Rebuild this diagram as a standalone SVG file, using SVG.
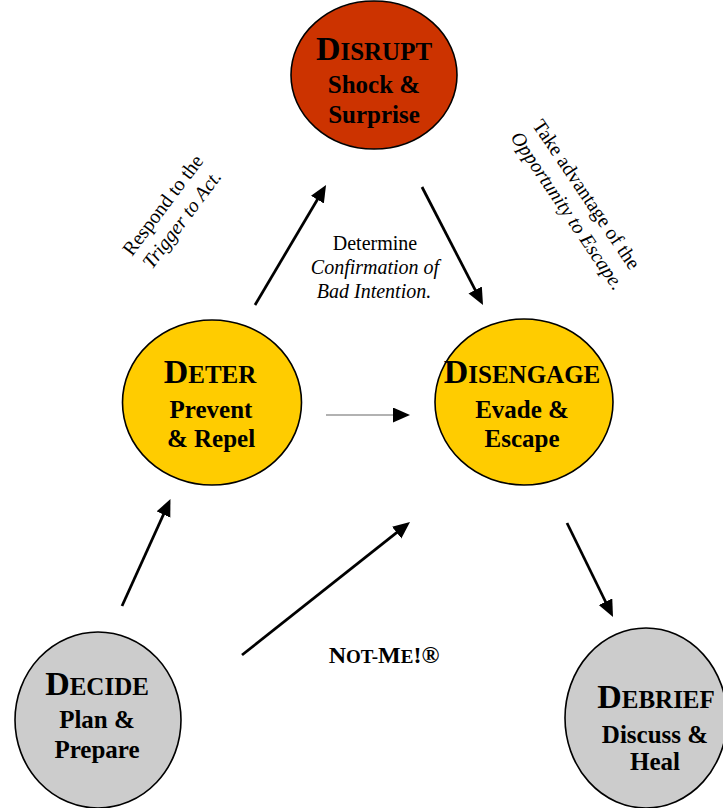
<svg xmlns="http://www.w3.org/2000/svg" width="723" height="808" viewBox="0 0 723 808" font-family="'Liberation Serif', 'Times New Roman', Times, serif">
<defs>
<marker id="ah" markerUnits="userSpaceOnUse" markerWidth="18" markerHeight="16" refX="12" refY="7.5" orient="auto">
<path d="M0,0 L17,7.5 L0,15 Z" fill="#000"/>
</marker>
</defs>
<rect width="723" height="808" fill="#fff"/>
<g id="connectors" stroke="#000" stroke-width="2.75" fill="none" marker-end="url(#ah)">
<line x1="255" y1="305" x2="323.5" y2="189.3"/>
<line x1="422" y1="187" x2="480.7" y2="300.6"/>
<line stroke="#999" stroke-width="1.5" x1="326" y1="415" x2="405" y2="415"/>
<line x1="122" y1="606" x2="168.4" y2="503.6"/>
<line x1="242" y1="655" x2="406.1" y2="525.1"/>
<line x1="567" y1="523" x2="610.8" y2="612.5"/>
</g>
<g id="disrupt" font-weight="bold" font-size="25" text-anchor="middle">
<ellipse fill="#CC3300" stroke="#000" stroke-width="1.6" cx="374" cy="75" rx="83" ry="74"/>
<text x="374" y="60"><tspan font-size="34">D</tspan>ISRUPT</text>
<text x="374" y="93">Shock &amp;</text>
<text x="374" y="123">Surprise</text>
</g>
<g id="deter" font-weight="bold" font-size="25" text-anchor="middle">
<ellipse fill="#FFCC00" stroke="#000" stroke-width="1.6" cx="212" cy="402.5" rx="89.5" ry="82.5"/>
<text x="210" y="383"><tspan font-size="34">D</tspan>ETER</text>
<text x="211" y="418">Prevent</text>
<text x="211" y="447">&amp; Repel</text>
</g>
<g id="disengage" font-weight="bold" font-size="25" text-anchor="middle">
<ellipse fill="#FFCC00" stroke="#000" stroke-width="1.6" cx="524" cy="402" rx="89" ry="83"/>
<text x="522" y="383"><tspan font-size="34">D</tspan>ISENGAGE</text>
<text x="522" y="418">Evade &amp;</text>
<text x="522" y="447">Escape</text>
</g>
<g id="decide" font-weight="bold" font-size="25" text-anchor="middle">
<ellipse fill="#CCCCCC" stroke="#000" stroke-width="1.6" cx="98" cy="720" rx="83" ry="88"/>
<text x="97" y="695"><tspan font-size="34">D</tspan>ECIDE</text>
<text x="97" y="728">Plan &amp;</text>
<text x="97" y="758">Prepare</text>
</g>
<g id="debrief" font-weight="bold" font-size="25" text-anchor="middle">
<ellipse fill="#CCCCCC" stroke="#000" stroke-width="1.6" cx="646" cy="718" rx="81" ry="90"/>
<text x="656" y="708"><tspan font-size="34">D</tspan>EBRIEF</text>
<text x="655" y="743">Discuss &amp;</text>
<text x="655" y="770">Heal</text>
</g>
<g id="labels" font-size="20" text-anchor="middle">
<g transform="translate(168,209) rotate(-53)">
<text x="0" y="0">Respond to the</text>
<text font-style="italic" x="0" y="24">Trigger to Act.</text>
</g>
<g transform="translate(581,198) rotate(56)">
<text x="0" y="0">Take advantage of the</text>
<text font-style="italic" x="3" y="25">Opportunity to Escape.</text>
</g>
<text x="375" y="250">Determine</text>
<text font-style="italic" x="375" y="274">Confirmation of</text>
<text font-style="italic" x="374" y="298">Bad Intention.</text>
<text font-weight="bold" font-size="19" x="384" y="663"><tspan font-size="24">N</tspan>OT-<tspan font-size="24">M</tspan>E<tspan font-size="24">!®</tspan></text>
</g>
</svg>
